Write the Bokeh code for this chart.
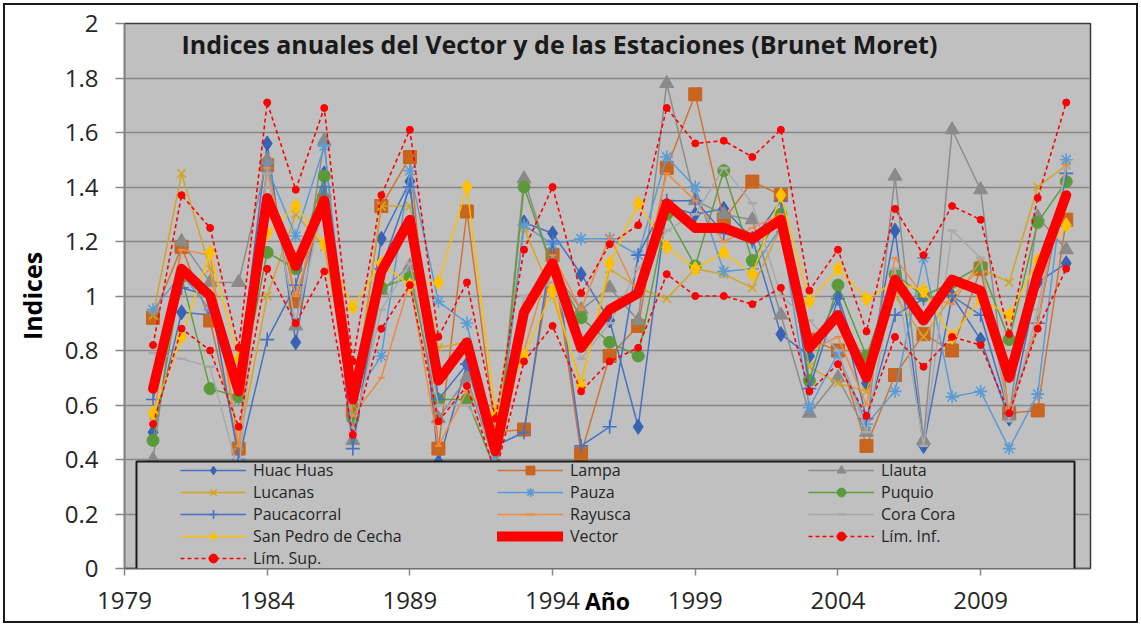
from bokeh.plotting import figure
from bokeh.layouts import column
from bokeh.models import (Legend, LegendItem, BoxAnnotation, Label, FixedTicker,
                          NumeralTickFormatter, Range1d)
from bokeh.embed import file_html
from bokeh.resources import INLINE

# ---------------- data ----------------
years = [1980, 1981, 1982, 1983, 1984, 1985, 1986, 1987, 1988, 1989, 1990,
         1991, 1992, 1993, 1994, 1995, 1996, 1997, 1998, 1999, 2000, 2001,
         2002, 2003, 2004, 2005, 2006, 2007, 2008, 2009, 2010, 2011, 2012]

huac_huas = [0.50, 0.94, 0.93, 0.70, 1.56, 0.83, 1.45, 0.55, 1.21, 1.42, 0.39,
             0.75, 0.38, 1.27, 1.23, 1.08, 0.91, 0.52, 1.33, 1.30, 1.32, 1.21,
             0.86, 0.78, 1.00, 0.68, 1.24, 0.45, 1.00, 0.84, 0.55, 1.05, 1.12]
lampa = [0.92, 1.18, 0.91, 0.44, 1.48, 0.98, 1.35, 0.58, 1.33, 1.51, 0.44,
         1.31, 0.50, 0.51, 1.15, 0.42, 0.78, 0.89, 1.47, 1.74, 1.28, 1.42,
         1.37, 0.84, 0.80, 0.45, 0.71, 0.86, 0.80, 1.10, 0.57, 0.58, 1.28]
llauta = [0.40, 1.20, 1.05, 1.05, 1.50, 0.89, 1.57, 0.47, 1.02, 1.11, 0.55,
          0.70, 0.38, 1.43, 1.10, 0.95, 1.03, 0.91, 1.78, 1.35, 1.30, 1.28,
          0.93, 0.57, 0.70, 0.50, 1.44, 0.47, 1.61, 1.39, 0.56, 1.29, 1.17]
lucanas = [0.93, 1.45, 1.10, 0.45, 1.00, 1.30, 1.18, 0.60, 1.33, 1.33, 0.81,
           0.83, 0.50, 1.25, 1.00, 0.68, 1.10, 1.03, 0.99, 1.10, 1.08, 1.03,
           1.25, 0.74, 0.68, 0.65, 1.00, 0.85, 1.00, 1.10, 1.05, 1.40, 1.48]
pauza = [0.95, 1.08, 0.95, 0.62, 1.47, 1.22, 1.55, 0.62, 0.78, 1.46, 0.98,
         0.90, 0.40, 1.26, 1.19, 1.21, 1.21, 1.15, 1.51, 1.40, 1.09, 1.10,
         1.25, 0.59, 0.79, 0.53, 0.65, 1.14, 0.63, 0.65, 0.44, 0.64, 1.50]
puquio = [0.47, 1.07, 0.66, 0.63, 1.16, 1.10, 1.44, 0.55, 1.03, 1.07, 0.62,
          0.62, 0.36, 1.40, 1.10, 0.92, 0.83, 0.78, 1.30, 1.11, 1.46, 1.13,
          1.30, 0.69, 1.04, 0.78, 1.08, 1.00, 1.05, 1.11, 0.84, 1.27, 1.42]
paucacorral = [0.62, 1.03, 1.00, 0.40, 0.84, 1.04, 1.40, 0.44, 1.10, 1.40, 0.62,
               0.75, 0.45, 0.50, 1.20, 0.45, 0.52, 1.15, 1.35, 1.35, 1.23, 1.20,
               1.35, 0.66, 0.99, 0.55, 0.93, 0.99, 1.00, 0.93, 0.57, 0.90, 1.45]
rayusca = [0.55, 1.17, 1.15, 0.45, 1.47, 1.00, 1.35, 0.56, 0.70, 1.05, 0.45,
           0.65, 0.55, 0.80, 1.15, 0.95, 1.22, 1.00, 1.45, 1.35, 1.20, 1.25,
           1.30, 0.80, 0.85, 0.60, 1.14, 1.00, 0.97, 1.13, 0.58, 0.90, 1.48]
cora_cora = [0.79, 0.77, 0.74, 0.35, 1.45, 0.90, 1.35, 0.50, 0.95, 1.12, 0.60,
             0.60, 0.45, 1.00, 1.05, 0.77, 0.90, 1.10, 1.24, 1.30, 1.47, 1.34,
             1.00, 0.91, 0.80, 0.50, 1.10, 0.45, 1.24, 1.14, 0.54, 0.95, 1.47]
san_pedro = [0.57, 0.85, 1.16, 0.77, 1.23, 1.33, 1.19, 0.96, 1.12, 1.04, 1.05,
             1.40, 0.57, 0.78, 1.02, 0.67, 1.12, 1.34, 1.18, 1.10, 1.16, 1.08,
             1.37, 0.98, 1.10, 0.99, 1.05, 1.02, 0.85, 0.99, 0.93, 1.13, 1.26]
vector = [0.66, 1.10, 1.00, 0.65, 1.36, 1.11, 1.35, 0.62, 1.09, 1.28, 0.69,
          0.83, 0.43, 0.94, 1.12, 0.81, 0.95, 1.01, 1.34, 1.25, 1.25, 1.21,
          1.28, 0.81, 0.93, 0.70, 1.06, 0.91, 1.06, 1.02, 0.70, 1.08, 1.37]
lim_inf = [0.53, 0.88, 0.80, 0.52, 1.10, 0.90, 1.09, 0.49, 0.88, 1.04, 0.54,
           0.67, 0.35, 0.76, 0.89, 0.65, 0.76, 0.81, 1.08, 1.00, 1.00, 0.97,
           1.03, 0.65, 0.75, 0.56, 0.85, 0.74, 0.85, 0.82, 0.57, 0.88, 1.10]
lim_sup = [0.82, 1.37, 1.25, 0.81, 1.71, 1.39, 1.69, 0.76, 1.37, 1.61, 0.85,
           1.05, 0.55, 1.17, 1.40, 1.01, 1.19, 1.26, 1.69, 1.56, 1.57, 1.51,
           1.61, 1.02, 1.17, 0.87, 1.32, 1.15, 1.33, 1.28, 0.86, 1.36, 1.71]

x_ticks = [1979, 1984, 1989, 1994, 1999, 2004, 2009]
y_ticks = [0, 0.2, 0.4, 0.6, 0.8, 1.0, 1.2, 1.4, 1.6, 1.8, 2.0]

title_text = "Indices anuales del Vector y de las Estaciones (Brunet Moret)"

# ---------------- figure ----------------
FONT = "Open Sans"
p = figure(width=1131, height=616, output_backend="svg", toolbar_location=None,
           x_range=Range1d(1979, 2012.85), y_range=Range1d(0, 2),
           min_border_left=119, min_border_right=46, min_border_top=18,
           min_border_bottom=53)
p.background_fill_color = "#c0c0c0"
p.border_fill_color = "white"
p.outline_line_color = "#3a3a3a"
p.outline_line_width = 1.5

p.xgrid.visible = False
p.ygrid.ticker = FixedTicker(ticks=y_ticks)
p.ygrid.grid_line_color = "#868686"
p.ygrid.grid_line_width = 1.5

p.yaxis.ticker = FixedTicker(ticks=y_ticks)
p.yaxis.formatter = NumeralTickFormatter(format="0.[0]")
p.yaxis.major_tick_out = 9
p.yaxis.major_tick_in = 0
p.yaxis.minor_tick_out = 0
p.yaxis.minor_tick_in = 0
p.yaxis.major_label_standoff = 17
p.yaxis.major_label_text_font = FONT
p.yaxis.major_label_text_font_size = "24px"
p.yaxis.major_label_text_color = "#262626"
p.yaxis.axis_line_color = "#868686"
p.yaxis.axis_line_width = 1.5
p.yaxis.major_tick_line_color = "#868686"
p.yaxis.major_tick_line_width = 1.5
p.yaxis.axis_label = "Indices"
p.yaxis.axis_label_text_font = FONT
p.yaxis.axis_label_text_font_style = "bold"
p.yaxis.axis_label_text_font_size = "25px"
p.yaxis.axis_label_text_color = "black"
p.yaxis.axis_label_standoff = 13

p.xaxis.ticker = FixedTicker(ticks=x_ticks)
p.xaxis.major_tick_out = 7
p.xaxis.major_tick_in = 0
p.xaxis.minor_tick_out = 0
p.xaxis.minor_tick_in = 0
p.xaxis.major_label_standoff = 16
p.xaxis.major_label_text_font = FONT
p.xaxis.major_label_text_font_size = "24px"
p.xaxis.major_label_text_color = "#262626"
p.xaxis.axis_line_color = "#5a5a5a"
p.xaxis.axis_line_width = 1.5
p.xaxis.major_tick_line_color = "#868686"
p.xaxis.major_tick_line_width = 1.5
p.xaxis.axis_label = "Año"
p.xaxis.axis_label_text_font = FONT
p.xaxis.axis_label_text_font_style = "bold"
p.xaxis.axis_label_text_font_size = "23px"
p.xaxis.axis_label_text_color = "black"
p.xaxis.axis_label_standoff = -27

# ---------------- series ----------------
def station(vals, color, marker, size, mcolor=None, fill=True, mlw=1.0, lw=1.5):
    mcolor = mcolor or color
    lr = p.line(years, vals, line_color=color, line_width=lw)
    if fill:
        sr = p.scatter(years, vals, marker=marker, size=size, fill_color=mcolor,
                       line_color=mcolor, line_width=mlw)
    else:
        sr = p.scatter(years, vals, marker=marker, size=size, fill_color=None,
                       line_color=mcolor, line_width=mlw)
    return [lr, sr]

r_huac = station(huac_huas, "#4472C4", "diamond", 15, mcolor="#3763b5")
r_lampa = station(lampa, "#cf7434", "square", 13, mcolor="#c8651f")
r_llauta = station(llauta, "#8c8c8c", "triangle", 14, mcolor="#8a8a8a")
r_lucanas = station(lucanas, "#d4a422", "x", 12, fill=False, mlw=1.6)
r_pauza = station(pauza, "#5b9bd5", "asterisk", 13, fill=False, mlw=1.6)
r_puquio = station(puquio, "#5f9e3e", "circle", 12, mcolor="#5b9a3a")
r_pauca = station(paucacorral, "#4472C4", "cross", 14, fill=False, mlw=1.6)
r_rayusca = station(rayusca, "#f08a3e", "dash", 7, fill=False, mlw=2)
r_cora = station(cora_cora, "#a9a9a9", "dash", 9, fill=False, mlw=2.5)
r_sanpedro = station(san_pedro, "#FFC000", "diamond", 15, mcolor="#ffc000")

r_vector = [p.line(years, vector, line_color="#ff0000", line_width=10,
                   line_join="round", line_cap="round")]

def limit(vals):
    lr = p.line(years, vals, line_color="#ff0000", line_width=1.6, line_dash="4 3")
    sr = p.scatter(years, vals, marker="circle", size=7, fill_color="#ff0000",
                   line_color="#ff0000")
    return [lr, sr]

r_inf = limit(lim_inf)
r_sup = limit(lim_sup)

# ---------------- title ----------------
p.add_layout(Label(x=57, y=525, x_units="screen", y_units="screen",
                   text=title_text, text_font=FONT, text_font_style="bold",
                   text_font_size="25px", text_color="#1a1a1a",
                   text_baseline="alphabetic"))

# ---------------- legend ----------------
p.add_layout(BoxAnnotation(left=12, right=950, bottom=-1, top=107,
                           left_units="screen", right_units="screen",
                           bottom_units="screen", top_units="screen",
                           fill_color="#c0c0c0", fill_alpha=1.0,
                           line_color="#1a1a1a", line_alpha=1.0, line_width=2))

def make_legend(items, x, y):
    lg = Legend(items=[LegendItem(label=l, renderers=r) for l, r in items],
                location=(x, y), orientation="vertical",
                background_fill_alpha=0, border_line_alpha=0,
                padding=0, margin=0, spacing=0,
                glyph_width=66, glyph_height=22, label_height=22,
                label_standoff=7, label_text_font=FONT,
                label_text_font_size="16px", label_text_color="#262626")
    p.add_layout(lg)

make_legend([("Huac Huas", r_huac), ("Lucanas", r_lucanas),
             ("Paucacorral", r_pauca), ("San Pedro de Cecha", r_sanpedro),
             ("Lím. Sup.", r_sup)], 56, -1)
make_legend([("Lampa", r_lampa), ("Pauza", r_pauza), ("Rayusca", r_rayusca),
             ("Vector", r_vector)], 373, 21)
make_legend([("Llauta", r_llauta), ("Puquio", r_puquio),
             ("Cora Cora", r_cora), ("Lím. Inf.", r_inf)], 684, 21)

root = column(p)
root.styles = {"margin": "3px", "border": "2px solid #1a1a1a"}

open("out.html", "w").write(file_html(root, INLINE))
